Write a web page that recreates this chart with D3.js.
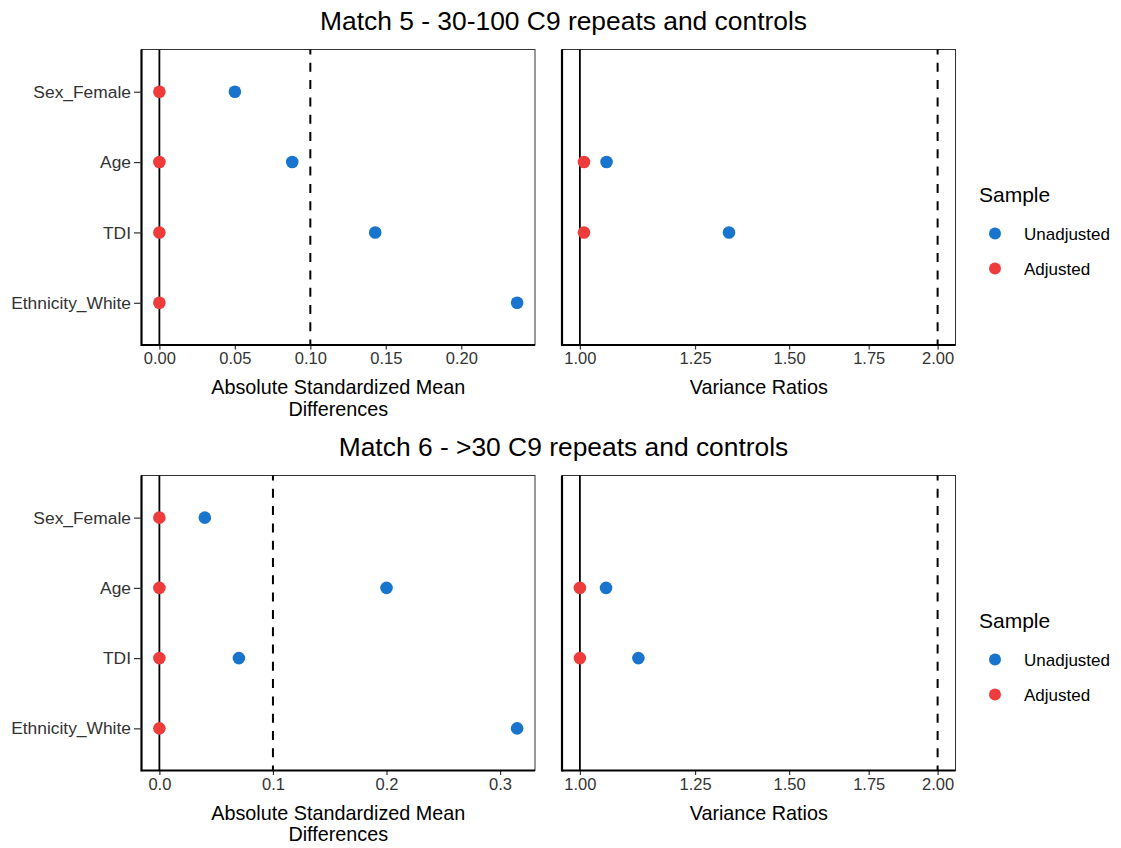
<!DOCTYPE html>
<html><head><meta charset="utf-8">
<script src="https://cdn.jsdelivr.net/npm/d3@7"></script>
<style>body{margin:0;background:#fff;} svg{display:block;font-family:"Liberation Sans",Arial,sans-serif;}</style>
</head><body>
<svg id="chart" width="1121" height="848"></svg>
<script>
const covariates = ["Sex_Female", "Age", "TDI", "Ethnicity_White"];
const sampleNames = ["Unadjusted", "Adjusted"];
const sampleColors = ["#1874CD", "#EE3B3B"];

const titles = ["Match 5 - 30-100 C9 repeats and controls", "Match 6 - >30 C9 repeats and controls"];

// Match 5
const m5SmdUnadj = [0.050, 0.088, 0.143, 0.237];
const m5SmdAdj   = [0.000, 0.000, 0.000, 0.000];
const m5VrUnadj  = [null, 1.053, 1.335, null];
const m5VrAdj    = [null, 1.008, 1.008, null];
const m5SmdTicks = [0, 0.05, 0.10, 0.15, 0.20];

// Match 6
const m6SmdUnadj = [0.040, 0.200, 0.070, 0.315];
const m6SmdAdj   = [0.000, 0.000, 0.000, 0.000];
const m6VrUnadj  = [null, 1.052, 1.120, null];
const m6VrAdj    = [null, 1.000, 1.000, null];
const m6SmdTicks = [0, 0.1, 0.2, 0.3];

const vrTicks = [1.00, 1.25, 1.50, 1.75, 2.00];
const smdThreshold = 0.1;
const vrThreshold = 2;

const svg = d3.select("#chart");

const rows = [
  {title: titles[0], top: 49.5, bottom: 345, smdU: m5SmdUnadj, smdA: m5SmdAdj, vrU: m5VrUnadj, vrA: m5VrAdj, smdTicks: m5SmdTicks, smdFmt: d3.format(".2f"), titleY: 29.5, legendY: 195},
  {title: titles[1], top: 475.5, bottom: 770.5, smdU: m6SmdUnadj, smdA: m6SmdAdj, vrU: m6VrUnadj, vrA: m6VrAdj, smdTicks: m6SmdTicks, smdFmt: d3.format(".1f"), titleY: 455.5, legendY: 621}
];

const leftPanel = {x0: 141.5, x1: 535};
const rightPanel = {x0: 562, x1: 955.5};

function drawPanel(g, panel, row, xScale, ticks, fmt, unadj, adj, refLine, threshold, showY, axisTitleLines) {
  const y = d3.scalePoint().domain(covariates).range([row.top, row.bottom]).padding(0.6);
  g.append("rect").attr("x", panel.x0).attr("y", row.top)
    .attr("width", panel.x1 - panel.x0).attr("height", row.bottom - row.top)
    .attr("fill", "none").attr("stroke", "#333").attr("stroke-width", 1);
  g.append("line").attr("x1", xScale(refLine)).attr("x2", xScale(refLine))
    .attr("y1", row.top).attr("y2", row.bottom).attr("stroke", "#000").attr("stroke-width", 1.8);
  g.append("line").attr("x1", xScale(threshold)).attr("x2", xScale(threshold))
    .attr("y1", row.top).attr("y2", row.bottom).attr("stroke", "#000").attr("stroke-width", 2)
    .attr("stroke-dasharray", "9,8.3").attr("stroke-dashoffset", 4);
  const xAxis = g.append("g").attr("transform", `translate(0,${row.bottom})`)
    .call(d3.axisBottom(xScale).tickValues(ticks).tickFormat(fmt).tickSizeOuter(0).tickSize(4.5).tickPadding(3));
  xAxis.select(".domain").remove();
  xAxis.selectAll(".tick line").attr("stroke", "#333").attr("stroke-width", 1.2);
  xAxis.selectAll(".tick text").attr("font-size", 16.5).attr("fill", "#333").attr("font-family", "Liberation Sans, Arial, sans-serif");
  g.append("line").attr("x1", panel.x0).attr("x2", panel.x1).attr("y1", row.bottom).attr("y2", row.bottom)
    .attr("stroke", "#000").attr("stroke-width", 2.2);
  g.append("line").attr("x1", panel.x0).attr("x2", panel.x0).attr("y1", row.top).attr("y2", row.bottom + 1.1)
    .attr("stroke", "#000").attr("stroke-width", 2.2);
  if (showY) {
    const yAxis = g.append("g").attr("transform", `translate(${panel.x0},0)`)
      .call(d3.axisLeft(y).tickSizeOuter(0).tickSize(7.5).tickPadding(3));
    yAxis.select(".domain").remove();
    yAxis.selectAll(".tick line").attr("stroke", "#333").attr("stroke-width", 1.2);
    yAxis.selectAll(".tick text").attr("font-size", 17.4).attr("fill", "#333").attr("font-family", "Liberation Sans, Arial, sans-serif");
  }
  const cx = (panel.x0 + panel.x1) / 2;
  axisTitleLines.forEach((t, i) => {
    g.append("text").attr("x", cx).attr("y", row.bottom + 49 + i * 21.5)
      .attr("text-anchor", "middle").attr("font-size", 19.8).attr("fill", "#000").text(t);
  });
  [[unadj, 0], [adj, 1]].forEach(([vals, si]) => {
    g.append("g").selectAll("circle")
      .data(covariates.map((c, i) => ({c, v: vals[i]})).filter(d => d.v !== null))
      .join("circle")
      .attr("cx", d => xScale(d.v)).attr("cy", d => y(d.c)).attr("r", 6.3)
      .attr("fill", sampleColors[si]);
  });
}

rows.forEach(row => {
  const g = svg.append("g");
  g.append("text").attr("x", 563.5).attr("y", row.titleY).attr("text-anchor", "middle")
    .attr("font-size", 26.4).attr("fill", "#000").text(row.title);

  const smdVals = row.smdU.concat(row.smdA);
  const lo = Math.min(0, d3.min(smdVals)), hi = d3.max(smdVals.concat([smdThreshold]));
  const pad = (hi - lo) * 0.05;
  const xSmd = d3.scaleLinear().domain([lo - pad, hi + pad]).range([leftPanel.x0, leftPanel.x1]);
  drawPanel(g, leftPanel, row, xSmd, row.smdTicks, row.smdFmt, row.smdU, row.smdA, 0, smdThreshold, true,
    ["Absolute Standardized Mean", "Differences"]);

  const vrVals = row.vrU.concat(row.vrA).filter(v => v !== null).concat([1, vrThreshold]);
  const llo = Math.log(d3.min(vrVals)), lhi = Math.log(d3.max(vrVals));
  const lpad = (lhi - llo) * 0.05;
  const xVr = d3.scaleLog().domain([Math.exp(llo - lpad), Math.exp(lhi + lpad)]).range([rightPanel.x0, rightPanel.x1]);
  drawPanel(g, rightPanel, row, xVr, vrTicks, d3.format(".2f"), row.vrU, row.vrA, 1, vrThreshold, false,
    ["Variance Ratios"]);

  const lg = g.append("g");
  lg.append("text").attr("x", 979).attr("y", row.legendY + 7).attr("font-size", 21).attr("fill", "#000").text("Sample");
  sampleNames.forEach((s, i) => {
    const yy = row.legendY + 38.5 + i * 35;
    lg.append("circle").attr("cx", 995).attr("cy", yy).attr("r", 6).attr("fill", sampleColors[i]);
    lg.append("text").attr("x", 1024).attr("y", yy + 6).attr("font-size", 17).attr("fill", "#000").text(s);
  });
});
</script>
</body></html>
